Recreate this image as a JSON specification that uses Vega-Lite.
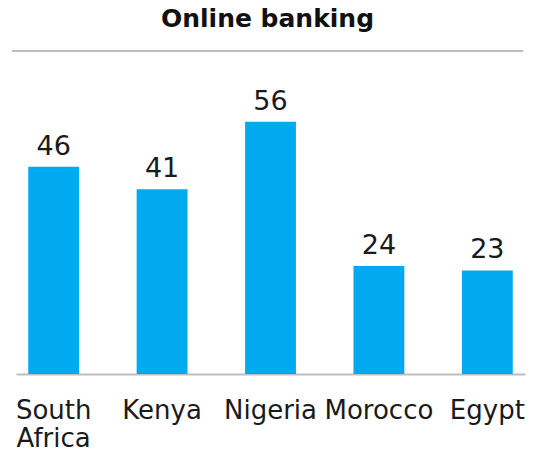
{
  "$schema": "https://vega.github.io/schema/vega-lite/v6.json",
  "width": 511,
  "height": 323,
  "autosize": "none",
  "padding": {"left": 12, "top": 51, "right": 16, "bottom": 78},
  "background": "white",
  "title": {
    "text": "Online banking",
    "font": "DejaVu Sans",
    "fontSize": 25,
    "fontWeight": "bold",
    "color": "#111111",
    "anchor": "middle",
    "offset": 18
  },
  "data": {
    "values": [
      {"country": "South Africa", "value": 46},
      {"country": "Kenya", "value": 41},
      {"country": "Nigeria", "value": 56},
      {"country": "Morocco", "value": 24},
      {"country": "Egypt", "value": 23}
    ]
  },
  "config": {"view": {"stroke": null}},
  "encoding": {
    "x": {
      "field": "country",
      "type": "nominal",
      "sort": null,
      "scale": {"paddingInner": 0.531, "paddingOuter": 0.113, "range": [4, 513]},
      "axis": {
        "title": null,
        "labelAngle": 0,
        "ticks": false,
        "tickSize": 0,
        "domainColor": "#bdbdbd",
        "domainWidth": 2,
        "labelFont": "DejaVu Sans",
        "labelFontSize": 26,
        "labelColor": "#1a1a1a",
        "labelPadding": 23,
        "labelLineHeight": 28,
        "labelBaseline": "top",
        "labelOverlap": false,
        "labelExpr": "split(datum.label, ' ')"
      }
    }
  },
  "layer": [
    {
      "mark": {"type": "bar", "color": "#00A9F0"},
      "encoding": {
        "y": {
          "field": "value",
          "type": "quantitative",
          "scale": {"domain": [0, 71.7], "nice": false},
          "axis": null
        }
      }
    },
    {
      "mark": {
        "type": "text",
        "baseline": "alphabetic",
        "dy": -12,
        "font": "DejaVu Sans",
        "fontSize": 27,
        "color": "#1a1a1a"
      },
      "encoding": {
        "y": {"field": "value", "type": "quantitative"},
        "text": {"field": "value", "type": "quantitative"}
      }
    },
    {
      "mark": {"type": "rule", "color": "#bdbdbd", "strokeWidth": 2},
      "encoding": {
        "x": {"value": 0},
        "x2": {"value": 511},
        "y": {"datum": 71.7}
      }
    }
  ]
}
